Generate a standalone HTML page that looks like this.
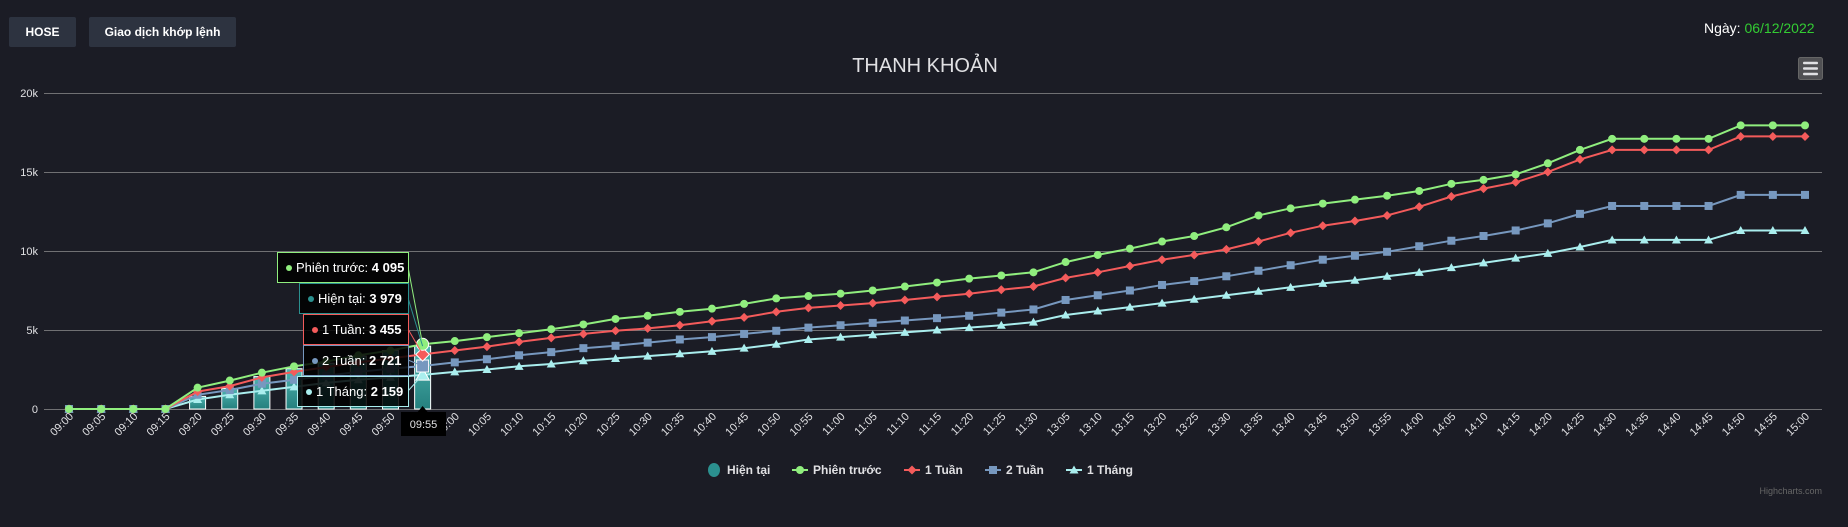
<!DOCTYPE html>
<html><head><meta charset="utf-8"><style>
body{margin:0;background:#1b1c25;width:1848px;height:527px;overflow:hidden;font-family:"Liberation Sans","Noto Sans CJK SC",sans-serif}
.btn{position:absolute;top:17px;height:30px;background:#2d3340;border-radius:2px;color:#fff;font-weight:bold;font-size:12px;line-height:30px;text-align:center}
</style></head><body>
<div class="btn" style="left:9px;width:67px">HOSE</div>
<div class="btn" style="left:89px;width:147px">Giao dịch khớp lệnh</div>
<div style="position:absolute;left:1704px;top:20px;font-size:14px;color:#fff">Ngày: <span style="color:#33cc33">06/12/2022</span></div>
<svg id="c" width="1848" height="527" style="position:absolute;left:0;top:0"></svg>
<script>
const categories=["09:00","09:05","09:10","09:15","09:20","09:25","09:30","09:35","09:40","09:45","09:50","09:55","10:00","10:05","10:10","10:15","10:20","10:25","10:30","10:35","10:40","10:45","10:50","10:55","11:00","11:05","11:10","11:15","11:20","11:25","11:30","13:05","13:10","13:15","13:20","13:25","13:30","13:35","13:40","13:45","13:50","13:55","14:00","14:05","14:10","14:15","14:20","14:25","14:30","14:35","14:40","14:45","14:50","14:55","15:00"];
const hienTai=[0,0,0,0,800,1300,2050,2550,2900,3350,3700,3979];
const phienTruoc=[0,0,0,0,1350,1800,2300,2700,3000,3400,3700,4095,4300,4550,4800,5050,5350,5700,5900,6150,6350,6650,7000,7150,7300,7500,7750,8000,8250,8450,8650,9300,9750,10150,10600,10950,11500,12250,12700,13000,13250,13500,13800,14250,14500,14850,15550,16400,17100,17100,17100,17100,17950,17950,17950];
const tuan1=[0,0,0,0,1100,1450,2000,2350,2650,2950,3200,3455,3700,3950,4250,4500,4750,4950,5100,5300,5550,5800,6150,6400,6550,6700,6900,7100,7300,7550,7750,8300,8650,9050,9450,9750,10100,10600,11150,11600,11900,12250,12800,13450,13950,14350,15000,15800,16400,16400,16400,16400,17250,17250,17250];
const tuan2=[0,0,0,0,900,1200,1600,1850,2100,2350,2550,2721,2950,3150,3400,3600,3850,4000,4200,4400,4550,4750,4950,5150,5300,5450,5600,5750,5900,6100,6300,6900,7200,7500,7850,8100,8400,8750,9100,9450,9700,9950,10300,10650,10950,11300,11750,12350,12850,12850,12850,12850,13550,13550,13550];
const thang1=[0,0,0,0,600,900,1150,1400,1650,1850,2000,2159,2350,2500,2700,2850,3050,3200,3350,3500,3650,3850,4100,4400,4550,4700,4850,5000,5150,5300,5500,5950,6200,6450,6700,6950,7200,7450,7700,7950,8150,8400,8650,8950,9250,9550,9850,10250,10700,10700,10700,10700,11300,11300,11300];
const yTicks=[0,5000,10000,15000,20000];
const yTickLabels=["0","5k","10k","15k","20k"];
const hoverIndex=11;

const svg=document.getElementById('c');const NS='http://www.w3.org/2000/svg';
function mk(t,a,p){const e=document.createElementNS(NS,t);for(const k in a)e.setAttribute(k,a[k]);(p||svg).appendChild(e);return e;}
const X0=69,STEP=(1805-69)/54,Y0=409,YS=79/5000;
const xs=i=>X0+i*STEP, ys=v=>Y0-v*YS;
const defs=mk('defs',{});
const g=mk('linearGradient',{id:'bg',x1:0,y1:0,x2:0,y2:1},defs);
mk('stop',{offset:'0','stop-color':'#4fb5b2'},g);mk('stop',{offset:'1','stop-color':'#25807e'},g);
let t=mk('text',{x:925,y:72,'text-anchor':'middle','font-size':20,fill:'#e0e0e3'});t.textContent='THANH KHOẢN';

yTicks.forEach((v,i)=>{const l=mk('line',{x1:44,x2:1822,y1:ys(v)+.5,y2:ys(v)+.5,stroke:'#707073','stroke-width':1});

const tx=mk('text',{x:38,y:ys(v)+4,'text-anchor':'end','font-size':11,fill:'#e0e0e3'});tx.textContent=yTickLabels[i];
});
categories.forEach((c,i)=>{const x=xs(i);const tx=mk('text',{x:x+5,y:417,'text-anchor':'end','font-size':11,fill:'#e0e0e3',transform:`rotate(-45 ${x+5} 417)`});tx.textContent=c;
});
hienTai.forEach((v,i)=>{const y=ys(v);const r=mk('rect',{x:xs(i)-8,y:y,width:16,height:Y0-y,fill:'url(#bg)',stroke:'#fff','stroke-width':1});
});
function marker(type,x,y,col,s,p){let e;
if(type==='circle')e=mk('circle',{cx:x,cy:y,r:4*s,fill:col},p);
else if(type==='diamond')e=mk('path',{d:`M${x} ${y-4.5*s}L${x+4.5*s} ${y}L${x} ${y+4.5*s}L${x-4.5*s} ${y}Z`,fill:col},p);
else if(type==='square')e=mk('rect',{x:x-4*s,y:y-4*s,width:8*s,height:8*s,fill:col},p);
else e=mk('path',{d:`M${x} ${y-4.5*s}L${x+4.5*s} ${y+3.5*s}L${x-4.5*s} ${y+3.5*s}Z`,fill:col},p);return e;}
const series=[[thang1,'#aaeeee','triangle','line-1-thang'],[tuan2,'#7798bf','square','line-2-tuan'],[tuan1,'#f45b5b','diamond','line-1-tuan'],[phienTruoc,'#90ee7e','circle','line-phien-truoc']];
series.forEach(([d,col,m,n])=>{const gr=mk('g',{});
mk('path',{d:d.map((v,i)=>(i?'L':'M')+xs(i).toFixed(1)+' '+ys(v).toFixed(1)).join(''),fill:'none',stroke:col,'stroke-width':2},gr);
d.forEach((v,i)=>{const e=marker(m,xs(i),ys(v),col,i===hoverIndex?1.5:1,gr);if(i===hoverIndex){e.setAttribute('stroke','#fff');e.setAttribute('stroke-width',1);}
});});
// tooltip
const hx=xs(hoverIndex);
const tips=[[277,252,'#90ee7e','Phiên trước: ','4 095',phienTruoc],[299,283,'#2b908f','Hiện tại: ','3 979',hienTai],[303,314,'#f45b5b','1 Tuần: ','3 455',tuan1],[303,345,'#7798bf','2 Tuần: ','2 721',tuan2],[297,376,'#aaeeee','1 Tháng: ','2 159',thang1]];
tips.forEach(([x,y,col,lab,val,d])=>{const gr=mk('g',{});
mk('line',{x1:408,y1:y+15,x2:hx,y2:ys(d[hoverIndex]),stroke:col,'stroke-width':1},gr);
mk('rect',{x:x+.5,y:y+.5,width:408-x,height:30,fill:'rgba(0,0,0,0.85)',stroke:col,'stroke-width':1},gr);
mk('circle',{cx:x+12,cy:y+16,r:3,fill:col},gr);
const tx=mk('text',{x:x+19,y:y+20,'font-size':13,fill:'#fff'},gr);tx.textContent=lab;
const b=mk('tspan',{'font-weight':'bold'},tx);b.textContent=val;});
const hb=mk('g',{});
mk('path',{d:`M401 436V412H${hx-5}L${hx} 406L${hx+5} 412H446V436Z`,fill:'#000'},hb);
t=mk('text',{x:423.5,y:428,'text-anchor':'middle','font-size':11,fill:'#e0e0e3'},hb);t.textContent='09:55';
// legend
const leg=[[714,'Hiện tại','#2b908f','bar'],[800,'Phiên trước','#90ee7e','circle'],[912,'1 Tuần','#f45b5b','diamond'],[993,'2 Tuần','#7798bf','square'],[1074,'1 Tháng','#aaeeee','triangle']];
leg.forEach(([x,lab,col,m])=>{const gr=mk('g',{});
if(m==='bar')mk('ellipse',{cx:x,cy:470,rx:6,ry:7,fill:col},gr);
else{mk('line',{x1:x-8,x2:x+8,y1:470,y2:470,stroke:col,'stroke-width':2},gr);marker(m,x,470,col,1,gr);}
const tx=mk('text',{x:x+13,y:474,'font-size':12,'font-weight':'bold',fill:'#e0e0e3'},gr);tx.textContent=lab;});
const mb=mk('g',{});
mk('rect',{x:1798.5,y:57.5,width:24,height:22,rx:2,fill:'#505053',stroke:'#666'},mb);
[63,68.5,74].forEach(y=>mk('rect',{x:1803,y:y-1.3,width:15,height:2.6,rx:1,fill:'#e0e0e3'},mb));
t=mk('text',{x:1822,y:494,'text-anchor':'end','font-size':9,fill:'#666'});t.textContent='Highcharts.com';

</script>
</body></html>
